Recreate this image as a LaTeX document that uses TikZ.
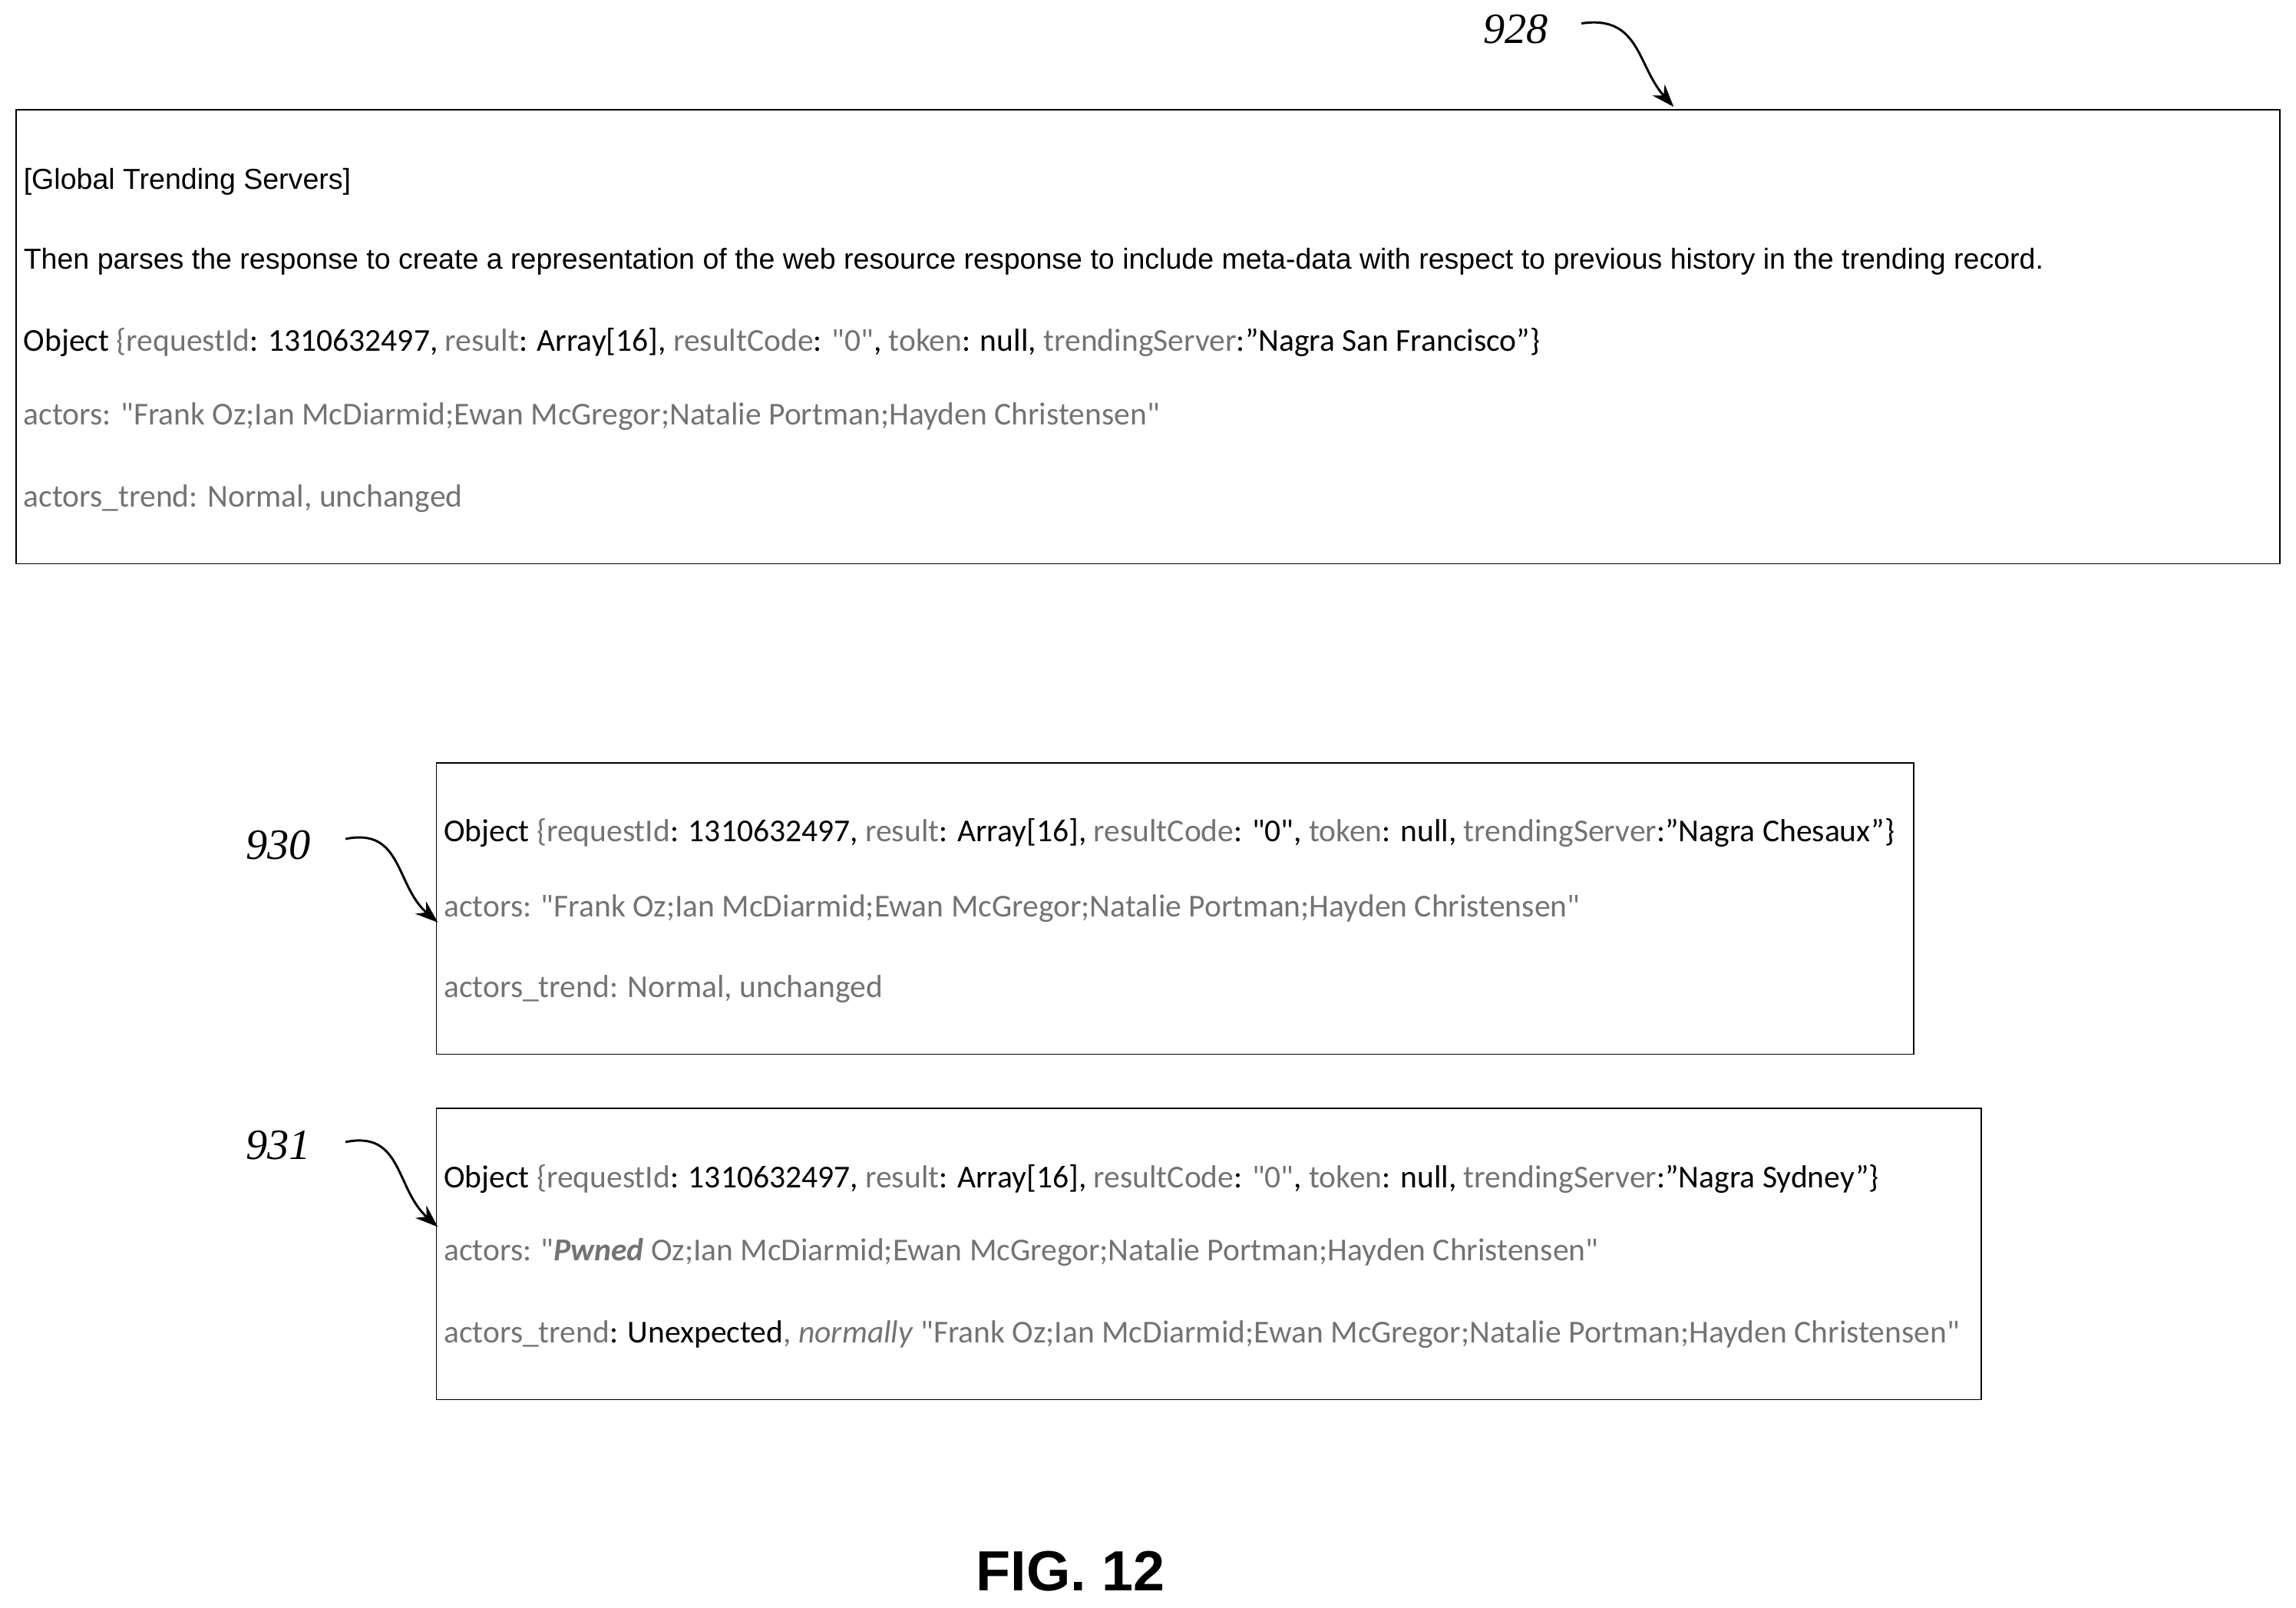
\documentclass[tikz,border=0pt]{standalone}
\usetikzlibrary{arrows.meta}
\usepackage{fontspec}
\setmainfont{Liberation Sans}
\newfontfamily\calfnt{Carlito}
\newfontfamily\serfnt{Liberation Serif}
\begin{document}
\begin{tikzpicture}[x=0.5mm,y=-0.5mm,
 box/.style={draw,line width=1.3pt},
 t/.style={anchor=base west,inner sep=0,font=\fontsize{28}{30}\selectfont},
 o/.style={anchor=base west,inner sep=0,font=\calfnt\fontsize{31}{33}\selectfont},
 lab/.style={font=\serfnt\itshape\fontsize{42}{44}\selectfont,inner sep=0},
 arr/.style={line width=2.2pt,-{Stealth[length=22pt,width=16pt]}}]
\colorlet{g}{black!55}
\useasboundingbox (0,0) rectangle (1568,1098);
\draw[box] (11,75) rectangle (1557,385);
\node[t] (a1) at (16,129) {[Global Trending Servers]};
\node[t] (a2) at (16,184) {Then parses the response to create a representation of the web resource response to include meta-data with respect to previous history in the trending record.};
\node[o] (a3) at (16,240) {Object {\color{g}\{requestId}: 1310632497, {\color{g}result}: Array[16], {\color{g}resultCode}: {\color{g}"0"}, {\color{g}token}: null, {\color{g}trendingServer}:”Nagra San Francisco”\}};
\node[o,g] (a4) at (16,290) {actors: "Frank Oz;Ian McDiarmid;Ewan McGregor;Natalie Portman;Hayden Christensen"};
\node[o,g] (a5) at (16,346) {actors\_trend: Normal, unchanged};
\node[lab] (l928) at (1035,20) {928};
\coordinate (e928) at (1143,73);
\draw[arr] (1080,16) .. controls (1120,10) and (1118,45) .. (e928);

\draw[box] (298,521) rectangle (1307,720);
\node[o] (b1) at (303,575) {Object {\color{g}\{requestId}: 1310632497, {\color{g}result}: Array[16], {\color{g}resultCode}: "0", {\color{g}token}: null, {\color{g}trendingServer}:”Nagra Chesaux”\}};
\node[o,g] (b2) at (303,626) {actors: "Frank Oz;Ian McDiarmid;Ewan McGregor;Natalie Portman;Hayden Christensen"};
\node[o,g] (b3) at (303,681) {actors\_trend: Normal, unchanged};
\node[lab] (l930) at (190,577) {930};
\coordinate (e930) at (299,630);
\draw[arr] (236,573) .. controls (275,565) and (270,605) .. (e930);

\draw[box] (298,757) rectangle (1353,956);
\node[o] (c1) at (303,811) {Object {\color{g}\{requestId}: 1310632497, {\color{g}result}: Array[16], {\color{g}resultCode}: {\color{g}"0"}, {\color{g}token}: null, {\color{g}trendingServer}:”Nagra Sydney”\}};
\node[o,g] (c2) at (303,861) {actors: "\textbf{\textit{Pwned}} Oz;Ian McDiarmid;Ewan McGregor;Natalie Portman;Hayden Christensen"};
\node[o] (c3) at (303,917) {{\color{g}actors\_trend}: Unexpected{\color{g}, \textit{normally} "Frank Oz;Ian McDiarmid;Ewan McGregor;Natalie Portman;Hayden Christensen"}};
\node[lab] (l931) at (190,782) {931};
\coordinate (e931) at (299,838);
\draw[arr] (236,780) .. controls (275,772) and (270,812) .. (e931);

\node[inner sep=0,font=\bfseries\fontsize{55}{57}\selectfont] (fig) at (731,1073) {FIG. 12};
\end{tikzpicture}
\end{document}
